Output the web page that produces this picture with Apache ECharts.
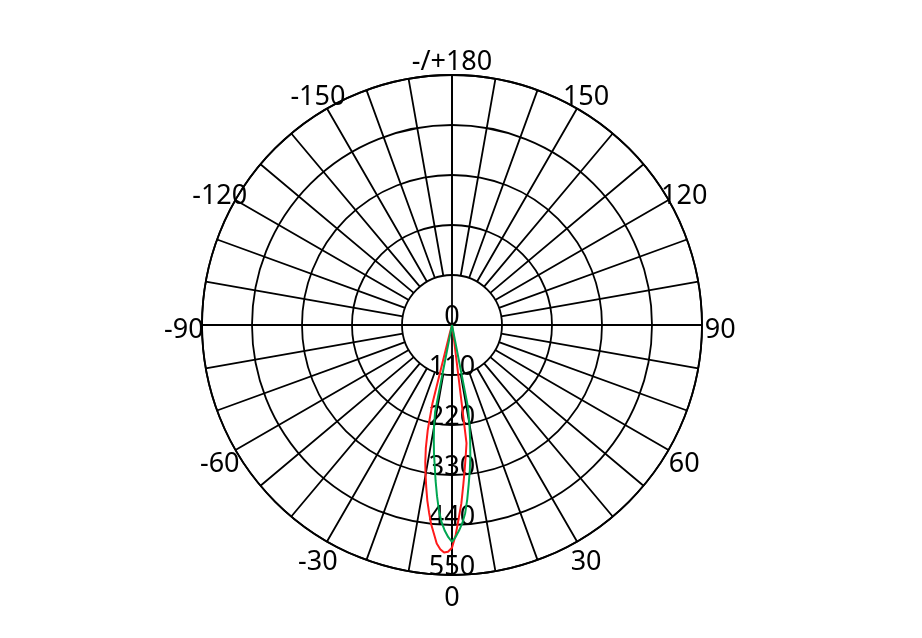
<!DOCTYPE html>
<html>
<head>
<meta charset="utf-8">
<script src="https://cdn.jsdelivr.net/npm/echarts@6/dist/echarts.min.js"></script>
<style>
  html, body { margin: 0; padding: 0; background: #fff; }
  #main { width: 922px; height: 638px; }
</style>
</head>
<body>
<div id="main"></div>
<script>
// angles in degrees, 0 = straight down, positive to the right
var angles = [-180, -90, -30, -16, -15, -14, -13, -12, -11, -10, -9, -8, -7, -6, -5, -4, -3, -2, -1,
              0, 1, 2, 3, 4, 5, 6, 7, 8, 9, 10, 11, 12, 13, 14, 15, 16, 30, 90, 180];

var redValues = [0, 0, 0, 0, 20, 178, 237, 277, 308, 335, 362, 390, 415, 440, 460, 482, 494, 501, 499,
                 490, 462, 425, 393, 354, 320, 289, 262, 25, 0, 0, 0, 0, 0, 0, 0, 0, 0, 0, 0];

var greenValues = [0, 0, 0, 0, 0, 0, 0, 0, 195, 228, 256, 285, 312, 345, 378, 410, 435, 453, 467,
                   477, 466, 452, 436, 415, 385, 352, 322, 290, 255, 220, 185, 0, 0, 0, 0, 0, 0, 0, 0];

var radiusTicks = [0, 110, 220, 330, 440, 550];
var angleTicks = [0, 30, 60, 90, 120, 150, 180, -150, -120, -90, -60, -30];
var angleTickLabels = ['0', '30', '60', '90', '120', '150', '-/+180', '-150', '-120', '-90', '-60', '-30'];

var FONT = 'Noto Sans';
var CENTER = [452, 325];
var GRID_W = 1.8;
var labelRadius = 590;   // just outside the 550 ring

function toAxisAngle(a) {
  return a < 0 ? a + 360 : a;
}

function makeLine(values) {
  var d = [];
  for (var i = 0; i < angles.length; i++) {
    d.push([values[i], toAxisAngle(angles[i])]);
  }
  return d;
}

var labelData = [];
for (var i = 0; i < angleTicks.length; i++) {
  labelData.push({name: angleTickLabels[i], value: [labelRadius, toAxisAngle(angleTicks[i])]});
}

function angleAxisBase(polarIndex, step, showLine) {
  return {
    polarIndex: polarIndex,
    type: 'value',
    min: 0,
    max: 360,
    interval: step,
    startAngle: 270,
    clockwise: false,
    axisLine: {show: showLine, lineStyle: {color: '#000', width: GRID_W}},
    axisTick: {show: false},
    axisLabel: {show: false},
    splitLine: {show: polarIndex != 0, lineStyle: {color: '#000', width: GRID_W}}
  };
}

var option = {
  animation: false,
  backgroundColor: '#fff',
  polar: [
    {center: CENTER, radius: 250},
    {center: CENTER, radius: [50, 250]},
    {center: CENTER, radius: 250}
  ],
  angleAxis: [
    angleAxisBase(0, 30, true),
    angleAxisBase(1, 10, false),
    angleAxisBase(2, 90, false)
  ],
  radiusAxis: [
    {
      polarIndex: 0,
      type: 'value',
      min: radiusTicks[0],
      max: radiusTicks[radiusTicks.length - 1],
      interval: radiusTicks[1] - radiusTicks[0],
      axisLine: {show: false},
      axisTick: {show: false},
      axisLabel: {
        show: true,
        margin: 0,
        align: 'center',
        verticalAlign: 'bottom',
        lineHeight: 16,
        color: '#000',
        fontSize: 27,
        fontFamily: FONT
      },
      splitLine: {show: true, lineStyle: {color: '#000', width: GRID_W}}
    },
    {polarIndex: 1, type: 'value', min: 0, max: 550, axisLine: {show: false}, axisTick: {show: false},
     axisLabel: {show: false}, splitLine: {show: false}},
    {polarIndex: 2, type: 'value', min: 0, max: 550, axisLine: {show: false}, axisTick: {show: false},
     axisLabel: {show: false}, splitLine: {show: false}}
  ],
  series: [
    {
      type: 'line',
      coordinateSystem: 'polar',
      polarIndex: 0,
      data: makeLine(redValues),
      showSymbol: false,
      lineStyle: {color: '#ff1a1a', width: 2},
      z: 5
    },
    {
      type: 'line',
      coordinateSystem: 'polar',
      polarIndex: 0,
      data: makeLine(greenValues),
      showSymbol: false,
      lineStyle: {color: '#00a651', width: 2},
      z: 6
    },
    {
      // angle tick labels, centred just outside the outer ring
      type: 'scatter',
      coordinateSystem: 'polar',
      polarIndex: 0,
      clip: false,
      symbol: 'circle',
      symbolSize: 1,
      itemStyle: {color: 'rgba(0,0,0,0)', opacity: 1},
      data: labelData,
      label: {
        show: true,
        position: 'inside',
        offset: [0, 5],
        formatter: '{b}',
        color: '#000',
        opacity: 1,
        textBorderWidth: 0,
        fontSize: 27,
        fontFamily: FONT
      }
    }
  ]
};

var myChart = echarts.init(document.getElementById('main'));
myChart.setOption(option);
</script>
</body>
</html>
